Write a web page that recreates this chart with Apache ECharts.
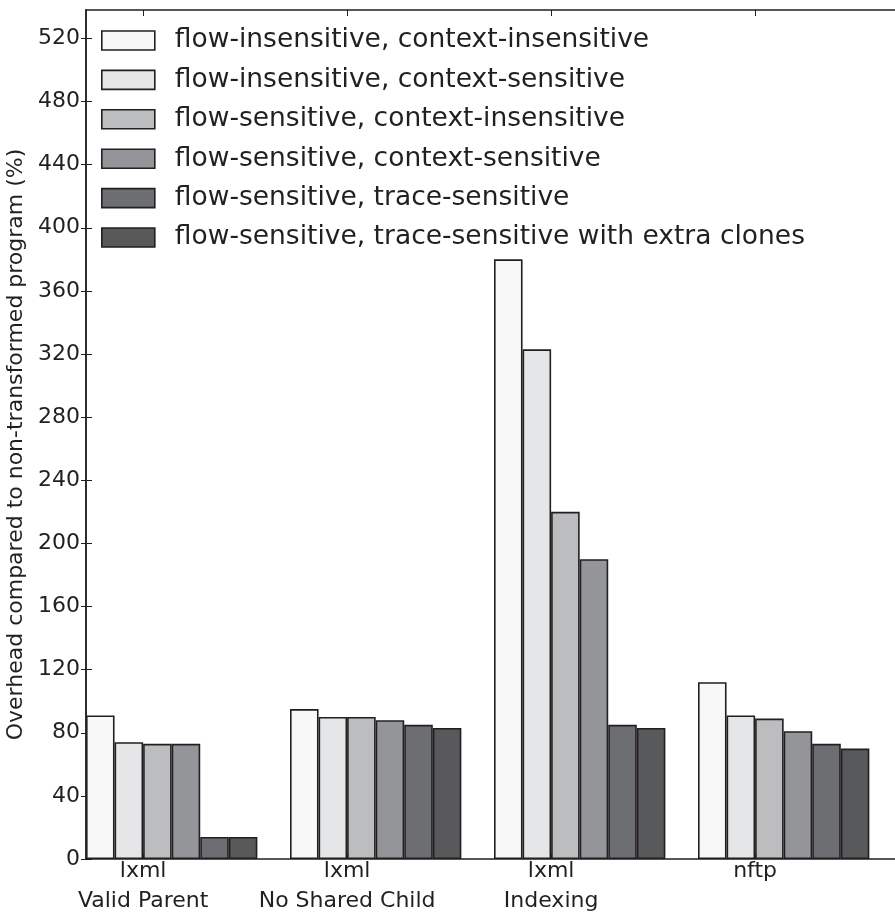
<!DOCTYPE html>
<html>
<head>
<meta charset="utf-8">
<script src="https://cdn.jsdelivr.net/npm/echarts@6/dist/echarts.min.js"></script>
<style>
  html, body { margin: 0; padding: 0; background: #ffffff; }
  #chart { width: 895px; height: 914px; }
</style>
</head>
<body>
<div id="chart"></div>
<script>
// Benchmarks (x positions are group indices 0..3)
const categories = ['lxml\nValid Parent', 'lxml\nNo Shared Child', 'lxml\nIndexing', 'nftp'];

// Analysis configurations, in legend order
const seriesNames = [
  'flow-insensitive, context-insensitive',
  'flow-insensitive, context-sensitive',
  'flow-sensitive, context-insensitive',
  'flow-sensitive, context-sensitive',
  'flow-sensitive, trace-sensitive',
  'flow-sensitive, trace-sensitive with extra clones'
];

// Overhead (%) per configuration, one value per benchmark
const fiCi = [91, 95, 380, 112];
const fiCs = [74, 90, 323, 91];
const fsCi = [73, 90, 220, 89];
const fsCs = [73, 88, 190, 81];
const fsTs = [14, 85, 85, 73];
const fsTsClones = [14, 83, 83, 70];

const yTicks = [0, 40, 80, 120, 160, 200, 240, 280, 320, 360, 400, 440, 480, 520];

const seriesValues = [fiCi, fiCs, fsCi, fsCs, fsTs, fsTsClones];
const fills = ['#f8f8f8', '#e5e6e7', '#bcbdbf', '#939598', '#6d6e71', '#58595b'];
const ink = '#231f20';
const font = 'DejaVu Sans';

// Bars occupy 0.14 of a group unit each; groups start at integer positions
const barUnit = 0.14;
const tickOffset = 2 * barUnit;
const tickPositions = categories.map((_, i) => i + tickOffset);

const chart = echarts.init(document.getElementById('chart'), null, { renderer: 'canvas' });

const gridLeft = 86, gridTop = 10, gridBottom = 55, gridRight = -7;
const unitPx = (895 - gridLeft - gridRight) / 4;

const series = seriesValues.map((vals, k) => ({
  name: seriesNames[k],
  type: 'bar',
  xAxisIndex: 0,
  yAxisIndex: 0,
  barWidth: barUnit * unitPx,
  barGap: '-100%',
  itemStyle: { color: fills[k], borderColor: ink, borderWidth: 1.6 },
  emphasis: { disabled: true },
  data: vals.map((v, i) => [i + barUnit * (k + 0.5), v])
}));

const yBase = {
  type: 'value', min: 0, max: 538, interval: 40,
  splitLine: { show: false },
  axisLine: { show: true, lineStyle: { color: ink, width: 1.5 } }
};

chart.setOption({
  animation: false,
  backgroundColor: '#ffffff',
  textStyle: { fontFamily: font, color: ink },
  grid: {
    left: gridLeft, right: gridRight, top: gridTop, bottom: gridBottom,
    containLabel: false, outerBoundsMode: 'none'
  },
  legend: {
    orient: 'vertical',
    left: 96, top: 22,
    itemWidth: 53, itemHeight: 19, itemGap: 12.4,
    icon: 'rect',
    selectedMode: false,
    textStyle: { fontFamily: font, fontSize: 26.5, color: ink, padding: [0, 0, 0, 15] },
    data: seriesNames.map((n, k) => ({
      name: n,
      itemStyle: { color: fills[k], borderColor: ink, borderWidth: 1.6 }
    }))
  },
  xAxis: [
    {
      type: 'value', min: 0, max: 4, position: 'bottom',
      splitLine: { show: false },
      axisLine: { show: true, onZero: false, lineStyle: { color: ink, width: 1.5 } },
      axisTick: { show: true, inside: true, length: 5, customValues: tickPositions, lineStyle: { color: ink } },
      axisLabel: {
        customValues: tickPositions,
        fontFamily: font, fontSize: 22, color: ink, lineHeight: 30, margin: -3,
        formatter: (v) => categories[Math.round(v - tickOffset)]
      }
    },
    {
      type: 'value', min: 0, max: 4, position: 'top',
      splitLine: { show: false },
      axisLine: { show: true, onZero: false, lineStyle: { color: ink, width: 1.5 } },
      axisTick: { show: true, inside: true, length: 6, customValues: tickPositions, lineStyle: { color: ink } },
      axisLabel: { show: false }
    }
  ],
  yAxis: [
    Object.assign({}, yBase, {
      position: 'left',
      name: 'Overhead compared to non-transformed program (%)',
      nameLocation: 'middle',
      nameGap: 56,
      nameTextStyle: { fontFamily: font, fontSize: 22, color: ink, padding: [0, 20, 0, 0] },
      axisTick: { show: true, inside: false, length: 5, customValues: yTicks, lineStyle: { color: ink } },
      axisLabel: { customValues: yTicks, fontFamily: font, fontSize: 22, color: ink, margin: 6 }
    }),
    Object.assign({}, yBase, {
      position: 'left',
      axisTick: { show: true, inside: true, length: 6, customValues: yTicks, lineStyle: { color: ink } },
      axisLabel: { show: false }
    })
  ],
  series: series
});
</script>
</body>
</html>
